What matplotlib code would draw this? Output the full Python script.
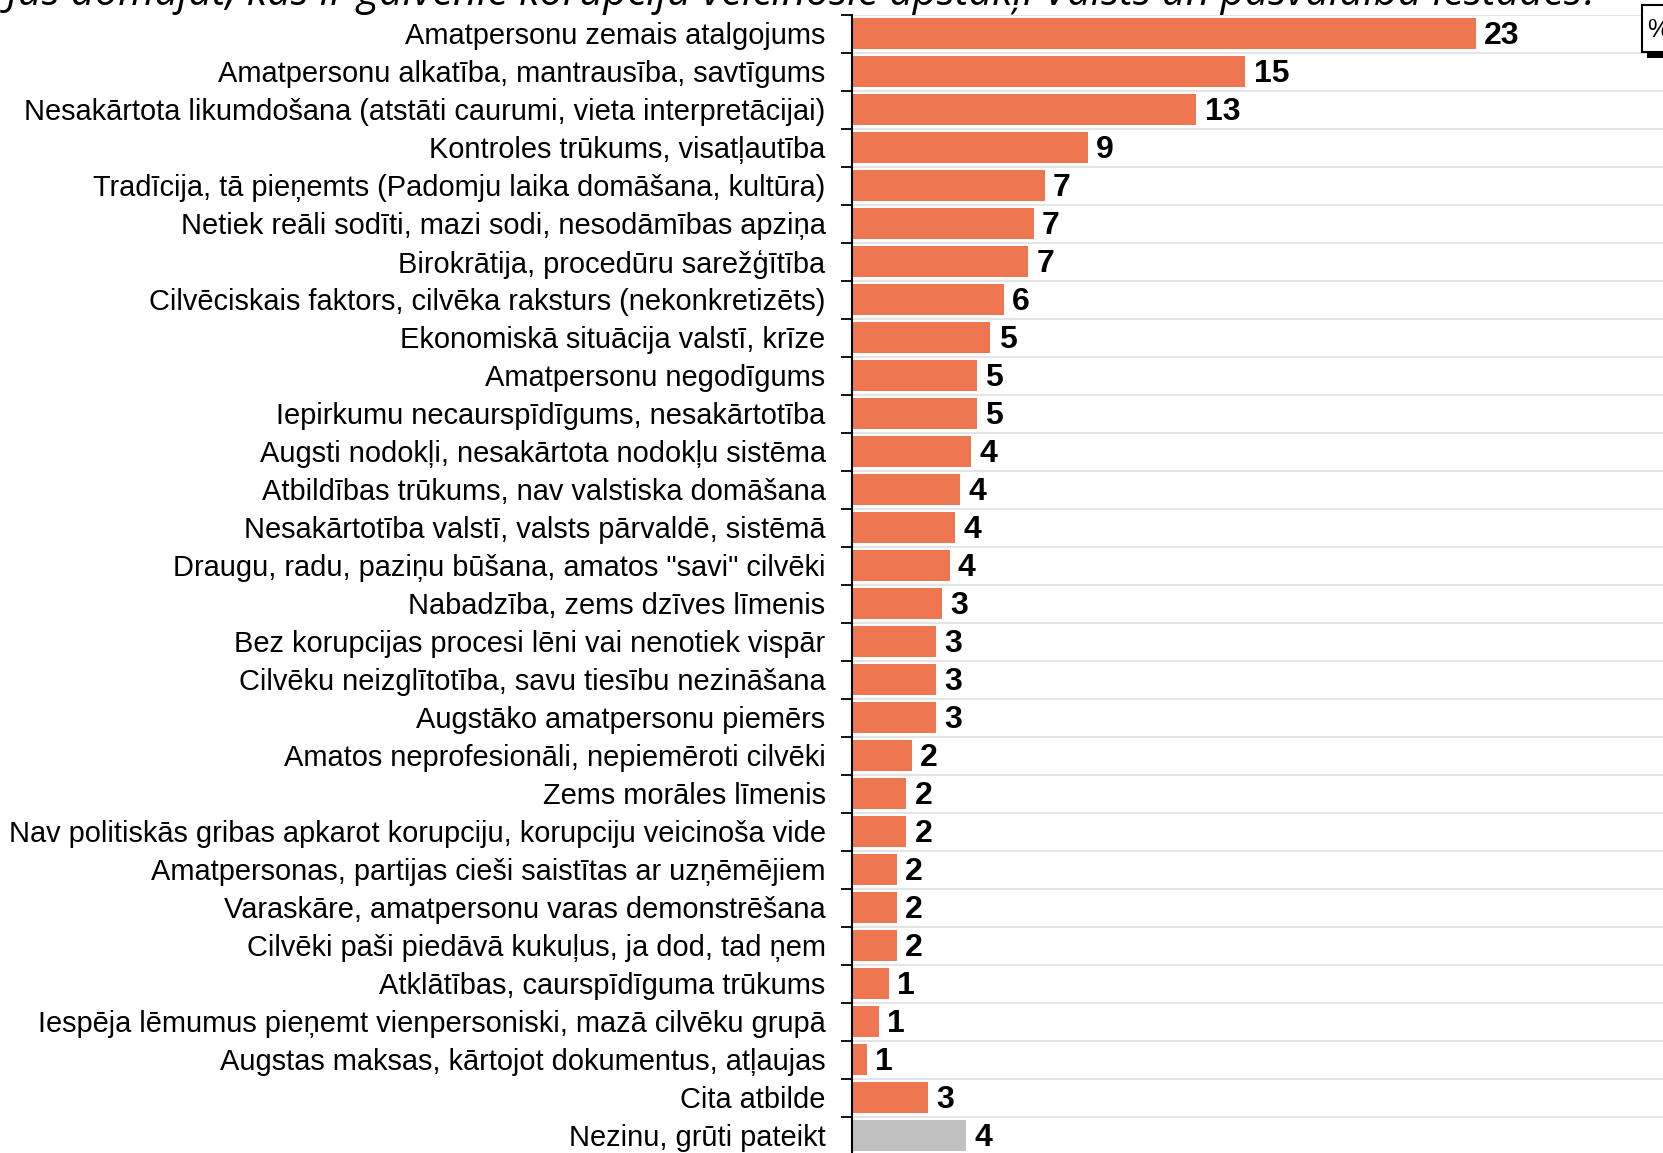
import matplotlib.pyplot as plt
from matplotlib.patches import Rectangle

plt.rcParams['font.family'] = ['Liberation Sans', 'DejaVu Sans']

categories = [
    'Amatpersonu zemais atalgojums',
    'Amatpersonu alkatība, mantrausība, savtīgums',
    'Nesakārtota likumdošana (atstāti caurumi, vieta interpretācijai)',
    'Kontroles trūkums, visatļautība',
    'Tradīcija, tā pieņemts (Padomju laika domāšana, kultūra)',
    'Netiek reāli sodīti, mazi sodi, nesodāmības apziņa',
    'Birokrātija, procedūru sarežģītība',
    'Cilvēciskais faktors, cilvēka raksturs (nekonkretizēts)',
    'Ekonomiskā situācija valstī, krīze',
    'Amatpersonu negodīgums',
    'Iepirkumu necaurspīdīgums, nesakārtotība',
    'Augsti nodokļi, nesakārtota nodokļu sistēma',
    'Atbildības trūkums, nav valstiska domāšana',
    'Nesakārtotība valstī, valsts pārvaldē, sistēmā',
    'Draugu, radu, paziņu būšana, amatos "savi" cilvēki',
    'Nabadzība, zems dzīves līmenis',
    'Bez korupcijas procesi lēni vai nenotiek vispār',
    'Cilvēku neizglītotība, savu tiesību nezināšana',
    'Augstāko amatpersonu piemērs',
    'Amatos neprofesionāli, nepiemēroti cilvēki',
    'Zems morāles līmenis',
    'Nav politiskās gribas apkarot korupciju, korupciju veicinoša vide',
    'Amatpersonas, partijas cieši saistītas ar uzņēmējiem',
    'Varaskāre, amatpersonu varas demonstrēšana',
    'Cilvēki paši piedāvā kukuļus, ja dod, tad ņem',
    'Atklātības, caurspīdīguma trūkums',
    'Iespēja lēmumus pieņemt vienpersoniski, mazā cilvēku grupā',
    'Augstas maksas, kārtojot dokumentus, atļaujas',
    'Cita atbilde',
    'Nezinu, grūti pateikt',
]
values = [23.0, 14.5, 12.7, 8.7, 7.1, 6.7, 6.5, 5.6, 5.1, 4.6, 4.6, 4.4, 4.0,
          3.8, 3.6, 3.3, 3.1, 3.1, 3.1, 2.2, 2.0, 2.0, 1.65, 1.65, 1.65, 1.35,
          1.0, 0.55, 2.8, 4.2]
value_labels = ['23', '15', '13', '9', '7', '7', '7', '6', '5', '5', '5', '4', '4',
                '4', '4', '3', '3', '3', '3', '2', '2', '2', '2', '2', '2', '1',
                '1', '1', '3', '4']
title = 'Kā Jūs domājat, kas ir galvenie korupciju veicinošie apstākļi Valsts un pašvaldību iestādēs?'

orange = '#EE7651'
grey = '#C0C0C0'
colors = [orange] * (len(values) - 1) + [grey]

W, H = 1663, 1153
fig = plt.figure(figsize=(W / 100, H / 100), dpi=100)
# axes run a bit past the bottom and right edges, like the cropped original
left = 852 / W
top = 1 - 14.5 / H
height = 30 * 38.0 / H
ax = fig.add_axes([left, top - height, 1 - left, height])

pos = list(range(len(values)))
ax.barh(pos, values, height=0.8, color=colors, zorder=3)
for p, v, lab in zip(pos, values, value_labels):
    ax.annotate(lab, (v, p), xytext=(6, -2), textcoords='offset points',
                va='center', ha='left', fontsize=23, fontweight='bold', zorder=4)

ax.set_ylim(len(values) - 0.5, -0.5)
ax.set_xlim(0, 29.9)
ax.set_yticks(pos)
ax.set_yticklabels(categories, fontsize=20.9)
ax.tick_params(axis='y', which='major', length=0, pad=19)
ax.set_yticks([p + 0.5 for p in [-1] + pos], minor=True)
ax.tick_params(axis='y', which='minor', length=8, width=1.3, color='black')
ax.grid(axis='y', which='minor', color='#E2E2E2', linewidth=1.3, zorder=0)
ax.set_xticks([])
for s in ['top', 'right', 'bottom']:
    ax.spines[s].set_visible(False)
ax.spines['left'].set_linewidth(1.5)
ax.spines['left'].set_zorder(5)

fig.text(1600 / W, 1 - 5 / H, title, ha='right', va='baseline', fontsize=30,
         style='italic', family=['Open Sans', 'DejaVu Sans'])

# "%" box in the top right corner, partly outside the picture
fig.patches.append(Rectangle((1647 / W, 1 - 58 / H), 40 / W, 50 / H,
                             transform=fig.transFigure, facecolor='black', zorder=6))
fig.patches.append(Rectangle((1642 / W, 1 - 52 / H), 40 / W, 47 / H,
                             transform=fig.transFigure, facecolor='white',
                             edgecolor='black', linewidth=1.5, zorder=7))
fig.text(1647 / W, 1 - 30 / H, '%', ha='left', va='center', fontsize=18, zorder=8)

fig.savefig('out.png', dpi=100)
